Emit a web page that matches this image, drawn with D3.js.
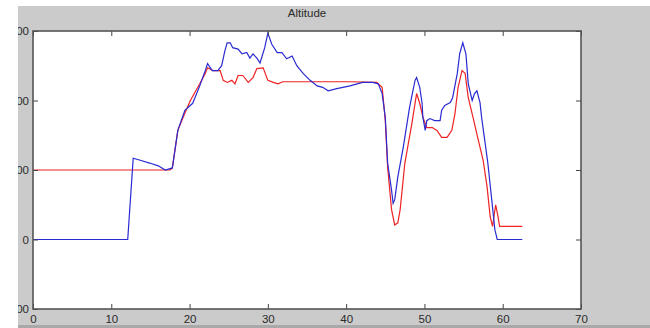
<!DOCTYPE html>
<html>
<head>
<meta charset="utf-8">
<script src="https://cdn.jsdelivr.net/npm/d3@7"></script>
<style>
  body { margin: 0; background: #fff; }
  svg { display: block; font-family: "Liberation Sans", Arial, sans-serif; }
</style>
</head>
<body>
<svg id="chart" width="650" height="328"></svg>
<script>
// time (s) and altitude readings
var blueT = [0, 12.1, 12.8, 13.7, 14.9, 16.0, 16.9, 17.8, 18.5, 19.4, 20.4, 21.3, 22.0, 22.3, 22.9, 23.6, 24.1, 24.5, 24.8, 25.2,
  25.5, 26.2, 26.7, 27.3, 27.7, 28.1, 28.6, 29.0, 29.6, 30.0, 30.5, 31.2, 31.8, 32.4, 33.1, 33.7, 34.5, 35.4, 36.3, 37.0,
  37.7, 38.8, 40.5, 42.1, 43.4, 44.1, 44.6, 45.0, 45.3, 45.8, 46.0, 46.2, 46.6, 47.3, 48.1, 48.8, 49.0, 49.4, 49.7, 49.8,
  50.1, 50.3, 50.7, 51.3, 52.0, 52.2, 52.6, 53.3, 53.6, 54.2, 54.5, 54.9, 55.3, 55.6, 56.1, 56.4, 56.7, 57.1, 57.3, 57.7,
  58.1, 58.6, 59.0, 59.3, 62.5];
var blueV = [0, 0, 117, 114, 110, 106, 100, 103, 157, 186, 196, 221, 243, 253, 243, 243, 250, 271, 283, 283,
  276, 274, 267, 269, 261, 267, 261, 254, 276, 297, 281, 269, 269, 260, 264, 250, 239, 229, 221, 219,
  214, 217, 221, 226, 226, 224, 210, 176, 110, 71, 52, 57, 90, 133, 190, 229, 233, 219, 196, 176,
  157, 171, 174, 171, 171, 186, 193, 197, 204, 239, 267, 283, 267, 224, 200, 210, 214, 197, 176, 143,
  110, 57, 14, 0, 0];

var redT = [0, 17.5, 17.8, 18.5, 19.3, 20.1, 21.3, 22.0, 22.3, 23.0, 23.9, 24.3, 24.8, 25.4, 25.8, 26.2, 26.8, 27.5, 28.1, 28.6,
  29.4, 30.0, 30.7, 31.3, 31.9, 34.1, 40.5, 43.9, 44.6, 45.0, 45.3, 45.8, 46.2, 46.6, 46.9, 47.5, 48.4, 49.0, 49.4, 49.8,
  50.3, 51.0, 51.6, 52.2, 52.9, 53.5, 53.9, 54.3, 54.8, 55.2, 55.6, 56.2, 56.8, 57.5, 58.0, 58.4, 58.7, 59.1, 59.4, 59.6, 62.5];
var redV = [100, 100, 103, 157, 179, 200, 224, 239, 247, 243, 243, 229, 226, 229, 224, 236, 236, 226, 233, 246,
  247, 229, 226, 224, 227, 227, 227, 226, 219, 171, 104, 43, 21, 24, 43, 110, 167, 210, 196, 176,
  161, 161, 157, 147, 147, 157, 181, 219, 243, 239, 204, 176, 147, 114, 76, 33, 19, 50, 33, 19, 19];

var xTicks = [0, 10, 20, 30, 40, 50, 60, 70];
var yTicks = [-100, 0, 100, 200, 300];
var title = "Altitude";

var svg = d3.select("#chart");

// grey figure background (picture is cropped: white strips top and left)
svg.append("rect").attr("x", 0).attr("y", 0).attr("width", 650).attr("height", 328).attr("fill", "#cbcbcb");
svg.append("rect").attr("x", 0).attr("y", 325).attr("width", 650).attr("height", 3).attr("fill", "#a9a9a9");

var boxL = 33, boxR = 581, boxT = 31, boxB = 309;
var x = d3.scaleLinear().domain([0, 70]).range([boxL, boxR]);
var y = d3.scaleLinear().domain([-100, 300]).range([boxB, boxT]);

svg.append("rect")
  .attr("x", boxL).attr("y", boxT)
  .attr("width", boxR - boxL).attr("height", boxB - boxT)
  .attr("fill", "#fff");

var line = d3.line().x(d => x(d[0])).y(d => y(d[1]));

svg.append("path")
  .datum(d3.zip(redT, redV))
  .attr("d", line)
  .attr("fill", "none")
  .attr("stroke", "#ee2222")
  .attr("stroke-width", 1.2);

svg.append("path")
  .datum(d3.zip(blueT, blueV))
  .attr("d", line)
  .attr("fill", "none")
  .attr("stroke", "#2a2ad2")
  .attr("stroke-width", 1.2);

// axes, ticks inside the box like matlab
function styleAxis(g) {
  g.select(".domain").remove();
  g.selectAll(".tick line").attr("stroke", "#444");
  g.selectAll(".tick text").attr("fill", "#2a2a2a").style("font-size", "11.5px");
}

svg.append("g")
  .attr("transform", "translate(0," + boxB + ")")
  .call(d3.axisBottom(x).tickValues(xTicks).tickSizeInner(-5).tickSizeOuter(0).tickPadding(6))
  .call(styleAxis);

svg.append("g")
  .attr("transform", "translate(0," + boxT + ")")
  .call(d3.axisTop(x).tickValues(xTicks).tickSizeInner(-5).tickSizeOuter(0).tickFormat(""))
  .call(styleAxis);

svg.append("g")
  .attr("transform", "translate(" + boxL + ",0)")
  .call(d3.axisLeft(y).tickValues(yTicks).tickSizeInner(-5).tickSizeOuter(0).tickPadding(4))
  .call(styleAxis);

svg.append("g")
  .attr("transform", "translate(" + boxR + ",0)")
  .call(d3.axisRight(y).tickValues(yTicks).tickSizeInner(-5).tickSizeOuter(0).tickFormat(""))
  .call(styleAxis);

// box
svg.append("rect")
  .attr("x", boxL).attr("y", boxT)
  .attr("width", boxR - boxL).attr("height", boxB - boxT)
  .attr("fill", "none")
  .attr("stroke", "#555")
  .attr("stroke-width", 1.6);

svg.append("text")
  .attr("x", (boxL + boxR) / 2).attr("y", 17)
  .attr("text-anchor", "middle")
  .attr("fill", "#2a2a2a")
  .style("font-size", "11.5px")
  .text(title);

// cropped edges of the screenshot
svg.append("rect").attr("x", 0).attr("y", 0).attr("width", 650).attr("height", 6).attr("fill", "#fff");
svg.append("rect").attr("x", 0).attr("y", 0).attr("width", 18).attr("height", 328).attr("fill", "#fff");
</script>
</body>
</html>
